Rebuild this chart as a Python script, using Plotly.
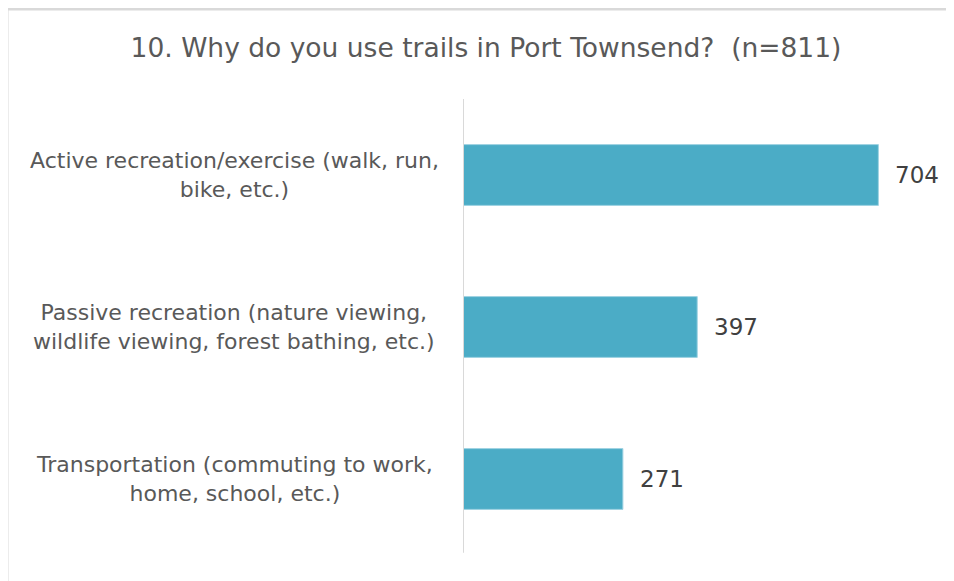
import plotly.graph_objects as go

categories = [
    "Active recreation/exercise (walk, run,<br>bike, etc.)",
    "Passive recreation (nature viewing,<br>wildlife viewing, forest bathing, etc.)",
    "Transportation (commuting to work,<br>home, school, etc.)",
]
values = [704, 397, 271]
title_text = "10. Why do you use trails in Port Townsend?  (n=811)"

FONT = "DejaVu Sans"
TXT = "#595959"
NUM = "#404040"

# page body has an 8px offset; figure coordinates below are relative to it
W, H = 946, 573
L, T = 455, 91
PW, PH = 472, 456

fig = go.Figure()
fig.add_trace(go.Bar(
    x=values, y=categories, orientation="h",
    marker=dict(color="#4BACC6", line=dict(color="#9fd3e2", width=1)),
    hoverinfo="skip",
))

annotations = []
for c, v in zip(categories, values):
    annotations.append(dict(
        x=v, y=c, xref="x", yref="y", text=str(v), showarrow=False,
        xanchor="left", xshift=15, font=dict(family="DejaVu Sans", size=23, color=NUM),
    ))
    annotations.append(dict(
        x=(226 - L) / PW, y=c, xref="paper", yref="y", text=c, showarrow=False,
        xanchor="center", align="center", font=dict(family=FONT, size=22, color=TXT),
    ))

bx = (-1 - L) / PW
by = 1 + (T - 1) / PH
shapes = [
    dict(type="line", xref="paper", yref="paper", x0=bx, x1=(W - L) / PW + 0.05, y0=by, y1=by,
         line=dict(color="#d9d9d9", width=3)),
    dict(type="line", xref="paper", yref="paper", x0=bx, x1=bx, y0=by, y1=-0.1,
         line=dict(color="#d9d9d9", width=3)),
    dict(type="line", xref="x", yref="paper", x0=0, x1=0, y0=0.005, y1=1.0,
         line=dict(color="#d9d9d9", width=2)),
]

fig.update_layout(
    width=W, height=H,
    margin=dict(l=L, r=W - L - PW, t=T, b=H - T - PH),
    paper_bgcolor="white", plot_bgcolor="white",
    showlegend=False,
    bargap=0.6,
    title=dict(text=title_text, x=478 / W, xanchor="center", xref="container",
               y=1 - 40 / H, yanchor="middle", yref="container",
               font=dict(family=FONT, size=26.5, color=TXT)),
    xaxis=dict(range=[0, 800], showgrid=False, zeroline=False, showticklabels=False,
               showline=False, fixedrange=True),
    yaxis=dict(categoryorder="array", categoryarray=categories, autorange="reversed",
               showticklabels=False, showgrid=False, zeroline=False,
               showline=False, fixedrange=True),
    annotations=annotations,
    shapes=shapes,
)

fig.write_html("out.html")
